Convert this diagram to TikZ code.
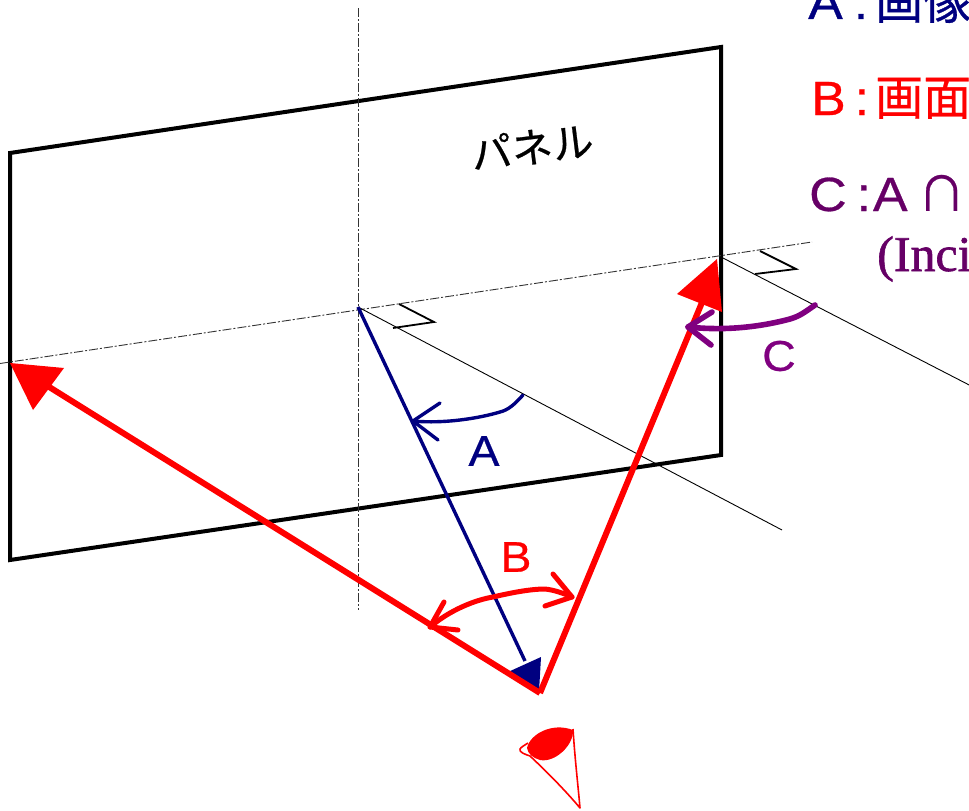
\documentclass[tikz,border=0pt]{standalone}
\usepackage{fontspec}
\setmainfont[FakeStretch=1.08,FakeBold=0.6]{Liberation Sans}
\newfontfamily\jpfont[FakeBold=0.6]{Noto Sans CJK JP}
\newfontfamily\latinserif[FakeBold=1.2]{Liberation Serif}
\definecolor{navyc}{HTML}{000080}
\definecolor{redc}{HTML}{FF0000}
\definecolor{purpc}{HTML}{800080}
\definecolor{legpurp}{HTML}{660066}
\tikzset{
  panelline/.style={draw=black,line width=4pt,line join=miter},
  axisline/.style={draw=black!80,line width=0.9pt,dash pattern=on 9pt off 2pt on 2pt off 2pt},
  thinline/.style={draw=black,line width=0.9pt},
  rightmark/.style={draw=black,line width=1.8pt},
  sight/.style={draw=redc,line width=6pt},
  headred/.style={fill=redc,draw=none},
  bluearc/.style={draw=navyc,line width=3.4pt,line cap=round,line join=round},
  redarc/.style={draw=redc,line width=5pt,line cap=round,line join=round},
  purparc/.style={draw=purpc,line width=5.6pt,line cap=round,line join=round},
  legend/.style={anchor=base west,inner sep=0pt,font=\fontsize{48}{48}\selectfont},
  anglelabel/.style={inner sep=0pt,font=\fontsize{43}{43}\selectfont}
}
\begin{document}
\begin{tikzpicture}[x=1pt,y=-1pt]
\useasboundingbox (0,0) rectangle (969,811);
\clip (0,0) rectangle (969,811);
\fill[white] (0,0) rectangle (969,811);
% named points
\coordinate (pTL) at (10,153);
\coordinate (pTR) at (721,47);
\coordinate (pBR) at (721,455);
\coordinate (pBL) at (10,560);
\coordinate (vTop) at (358,8);
\coordinate (vBot) at (358,610);
\coordinate (hL) at (0,363.5);
\coordinate (hR) at (812,242);
\coordinate (cen) at (358,307);
\coordinate (cenEnd) at (782,530);
\coordinate (edge) at (721,257);
\coordinate (edgeEnd) at (975,388);
\coordinate (view) at (540,693);
\coordinate (leftEnd) at (30,375);
\coordinate (rightEnd) at (703,300);
% panel and guides
\draw[panelline] (pTL) -- (pTR) -- (pBR) -- (pBL) -- cycle;
\draw[axisline] (vTop) -- (vBot);
\draw[axisline] (hL) -- (hR);
\draw[thinline] (cen) -- (cenEnd);
\draw[thinline] (edge) -- (edgeEnd);
\draw[rightmark] (399,304) -- (434,322) -- (393,328);
\draw[rightmark] (760,251) -- (796,269) -- (755,274);
% normal line
\draw[navyc,line width=3.4pt] (cen) -- (525,661);
\fill[navyc] (508,672) -- (541,657) -- (539,692) -- cycle;
% sight lines
\draw[sight] (view) -- (leftEnd);
\draw[sight] (view) -- (rightEnd);
\fill[headred] (10,363) -- (64,368) -- (33,410) -- cycle;
\fill[headred] (717,259) -- (677,294) -- (722,312) -- cycle;
% angle arcs
\draw[bluearc] (523,395) .. controls (514,405) and (508,410) .. (500,412) .. controls (480,418) and (445,424) .. (413,421);
\draw[bluearc] (440,403) -- (413,421) -- (438,440);
\draw[redarc] (430,627) .. controls (450,610) and (475,600) .. (493,597) .. controls (510,593) and (530,589) .. (545,589) .. controls (555,590) and (565,594) .. (572,597);
\draw[redarc] (444,602) -- (430,627) -- (458,630);
\draw[redarc] (553,574) -- (572,597) -- (545,606);
\draw[purparc] (815,305) .. controls (805,312) and (800,316) .. (790,319) .. controls (760,327) and (725,331) .. (688,327);
\draw[purparc] (712,312) -- (688,327) -- (711,345);
% eye
\fill[redc] (527,748) .. controls (530,734) and (552,722) .. (573,730) .. controls (574,745) and (555,763) .. (540,760) .. controls (533,758) and (528,754) .. (527,748) -- cycle;
\draw[redc,line width=1.6pt,line join=round] (573,729) .. controls (575,760) and (578,785) .. (580,808) .. controls (565,790) and (545,770) .. (530,756) .. controls (524,754) and (519,752) .. (520,749) .. controls (521,747) and (525,745) .. (528,743);
% labels
\node[anglelabel,text=navyc] (labA) at (484,451) {A};
\node[anglelabel,text=redc] (labB) at (516,557) {B};
\node[anglelabel,text=purpc] (labC) at (779,356) {C};
\node[inner sep=0pt,rotate=7,font=\fontsize{41}{41}\selectfont\jpfont] (panelLabel) at (532,147) {パネル};
\node[legend,text=navyc] (legA) at (808,19) {A\hspace{11pt}:\hspace{7pt}{\jpfont 画像}};
\node[legend,text=redc] (legB) at (811,115) {B\hspace{9pt}:\hspace{6pt}{\jpfont 画面}};
\node[legend,text=legpurp] (legC) at (809,211) {C\hspace{10pt}:\hspace{2pt}A\hspace{10pt}{\jpfont ∩}};
\node[legend,text=legpurp,font=\fontsize{50}{50}\selectfont\latinserif] (legD) at (877,271) {(Inci};
\end{tikzpicture}
\end{document}
